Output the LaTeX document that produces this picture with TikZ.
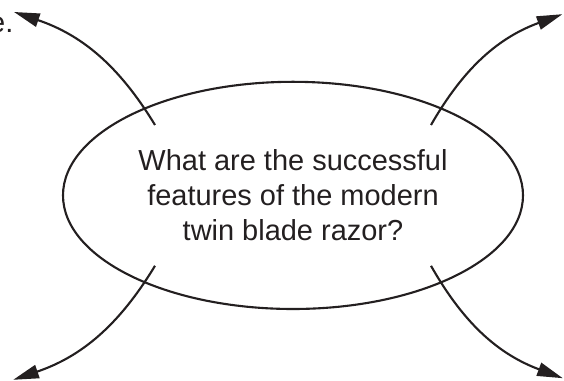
\documentclass[tikz,border=0pt]{standalone}
\usepackage{fontspec}
\setmainfont{Liberation Sans}
\usepackage{xcolor}
\usepackage{tikz}
\usetikzlibrary{calc}
\usetikzlibrary{shapes.geometric,arrows.meta}

\definecolor{ink}{HTML}{231F20}

\begin{document}
\begin{tikzpicture}[line width=1.5pt, color=ink,
		question/.style={ellipse, draw, minimum width=11.5cm, minimum height=5.68cm, inner sep=0pt, align=center},
		spoke/.style={-{Triangle[length=0.64cm,width=0.34cm]}}]
		\useasboundingbox (0,0) rectangle (14.1,9.525);
		
		\begin{scope}[font=\fontsize{20.6}{24.8}\selectfont]
			\node[question] (q) at (7.325,4.64) {What are the successful\\features of the modern\\twin blade razor?};
			\node[anchor=base east, inner sep=0pt] (cut) at (0.36,8.7) {e.};
		\end{scope}
		
		\coordinate (tl) at ($(q.center)+(-3.45,1.76)$);
		\coordinate (tr) at ($(q.center)+(3.45,1.76)$);
		\coordinate (bl) at ($(q.center)+(-3.45,-1.76)$);
		\coordinate (br) at ($(q.center)+(3.45,-1.76)$);
		\coordinate (tlend) at (0.35,9.225);
		\coordinate (trend) at (14.06,9.17);
		\coordinate (blend) at (0.33,0.03);
		\coordinate (brend) at (14.07,0.07);
		
		\draw[spoke] (tl) to[bend right=20] (tlend);
		\draw[spoke] (tr) to[bend left=20] (trend);
		\draw[spoke] (bl) to[bend left=20] (blend);
		\draw[spoke] (br) to[bend right=20] (brend);
	\end{tikzpicture}
\end{document}
